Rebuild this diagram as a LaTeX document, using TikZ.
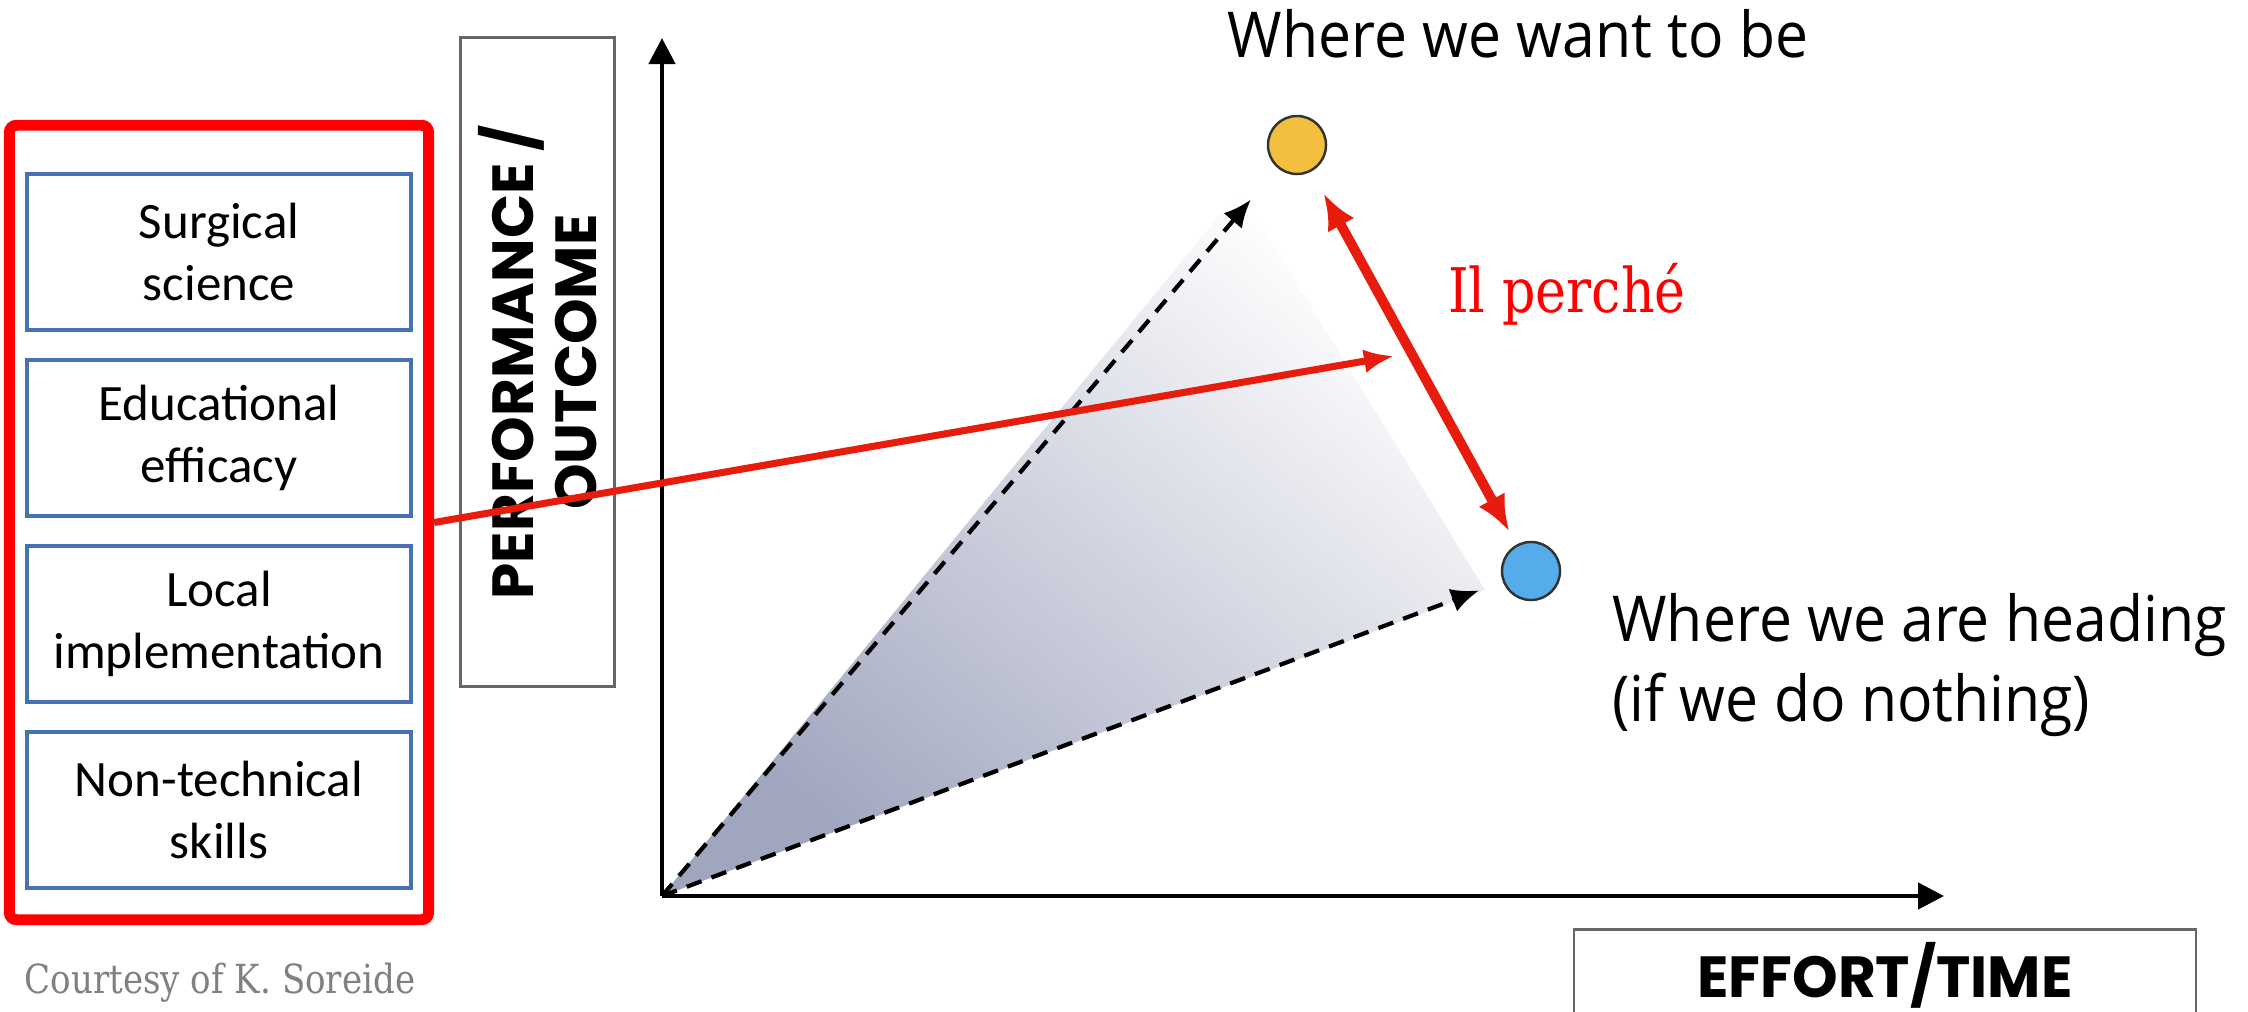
\documentclass[tikz,border=0pt]{standalone}
\usepackage{fontspec}
\setmainfont{Carlito}
\newfontfamily\axisfont{Poppins}
\newfontfamily\handfont[FakeStretch=0.93]{Open Sans}
\newfontfamily\slabfont[FakeStretch=0.85]{DejaVu Serif}
\usepackage{tikz}
\usetikzlibrary{arrows.meta,positioning,calc}
\definecolor{boxblue}{RGB}{68,114,180}
\definecolor{arrred}{RGB}{232,28,12}
\definecolor{goldy}{RGB}{242,192,62}
\definecolor{skyb}{RGB}{84,172,232}
\definecolor{shadegray}{RGB}{160,166,190}
\tikzset{
  redframe/.style={draw=red,line width=3.1pt,rounded corners=2pt,minimum width=4.19cm,minimum height=7.94cm},
  skill/.style={draw=boxblue,line width=1.1pt,minimum width=3.84cm,minimum height=1.56cm,align=center,inner sep=1pt,font=\fontsize{14.5}{17.6}\selectfont},
  axislabel/.style={font=\axisfont\bfseries\fontsize{16.5}{18}\selectfont,align=center},
  hand/.style={font=\handfont\fontsize{18}{22.5}\selectfont,align=left},
  dot/.style={circle,draw=black!80,line width=0.7pt,minimum size=0.58cm,inner sep=0pt},
  dasharrow/.style={line width=1.2pt,dash pattern=on 4.5pt off 3pt,-{Latex[length=0.28cm,width=0.24cm]}},
  axis/.style={line width=1.3pt,-{Triangle[length=0.26cm,width=0.26cm]}}
}

\begin{document}
\begin{tikzpicture}[x=0.01cm,y=-0.01cm]
  \useasboundingbox (0,0) rectangle (2248,1012);
  \node[redframe] (skills) at (219,522.5) {};
  \node[skill] (sci) at (219,252) {Surgical\\science};
  \node[skill,below=0.26cm of sci] (edu) {Educational\\efficacy};
  \node[skill,below=0.26cm of edu] (local) {Local\\implementation};
  \node[skill,below=0.26cm of local] (ntech) {Non-technical\\skills};
  \node[font=\slabfont\fontsize{11.4}{13}\selectfont,text=black!50] (credit) at (220,983) {Courtesy of K. Soreide};

  \node[draw=black!60,line width=0.8pt,rotate=90,minimum width=6.49cm,minimum height=1.54cm,axislabel] (perf) at (537.5,362) {PERFORMANCE /\\OUTCOME};

  \coordinate (o) at (662,896);
  \node[dot,fill=goldy] (want) at (1297,145) {};
  \node[dot,fill=skyb] (heading) at (1531,571) {};
  \coordinate (tipA) at (1240,190);
  \coordinate (tipB) at (1485,590);
  \shade[bottom color=shadegray,top color=white,shading angle=-40] (o) -- (tipA) -- (tipB) -- cycle;

  \draw[axis] (o) -- (662,38);
  \draw[axis] (o) -- (1944,896);
  \draw[dasharrow,shorten >=0.41cm] (o) -- (want);
  \draw[dasharrow,shorten >=0.25cm] (o) -- (heading);

  \node[hand] (wantlbl) at (1518,34) {Where we want to be};
  \node[hand,anchor=west] (headlbl) at (1600,665) {Where we are heading\\(if we do nothing)};

  \node[axislabel,minimum height=0.9cm] (effort) at (1885,975) {EFFORT/TIME};
  \draw[black!60,line width=0.8pt] (1574,1012) |- (effort.north) -| (2196,1012);

  \coordinate (aim) at (1394,356);
  \draw[arrred,line width=2pt,-{Latex[length=0.3cm,width=0.24cm]}] (skills.east) -- (aim);
  \draw[arrred,line width=2.8pt,{Latex[length=0.36cm,width=0.3cm]}-{Latex[length=0.36cm,width=0.3cm]},shorten <=0.25cm,shorten >=0.15cm] (want) -- (heading);
  \node[font=\slabfont\fontsize{17.5}{20}\selectfont,text=red] (why) at (1567,294) {Il perché};
\end{tikzpicture}
\end{document}
